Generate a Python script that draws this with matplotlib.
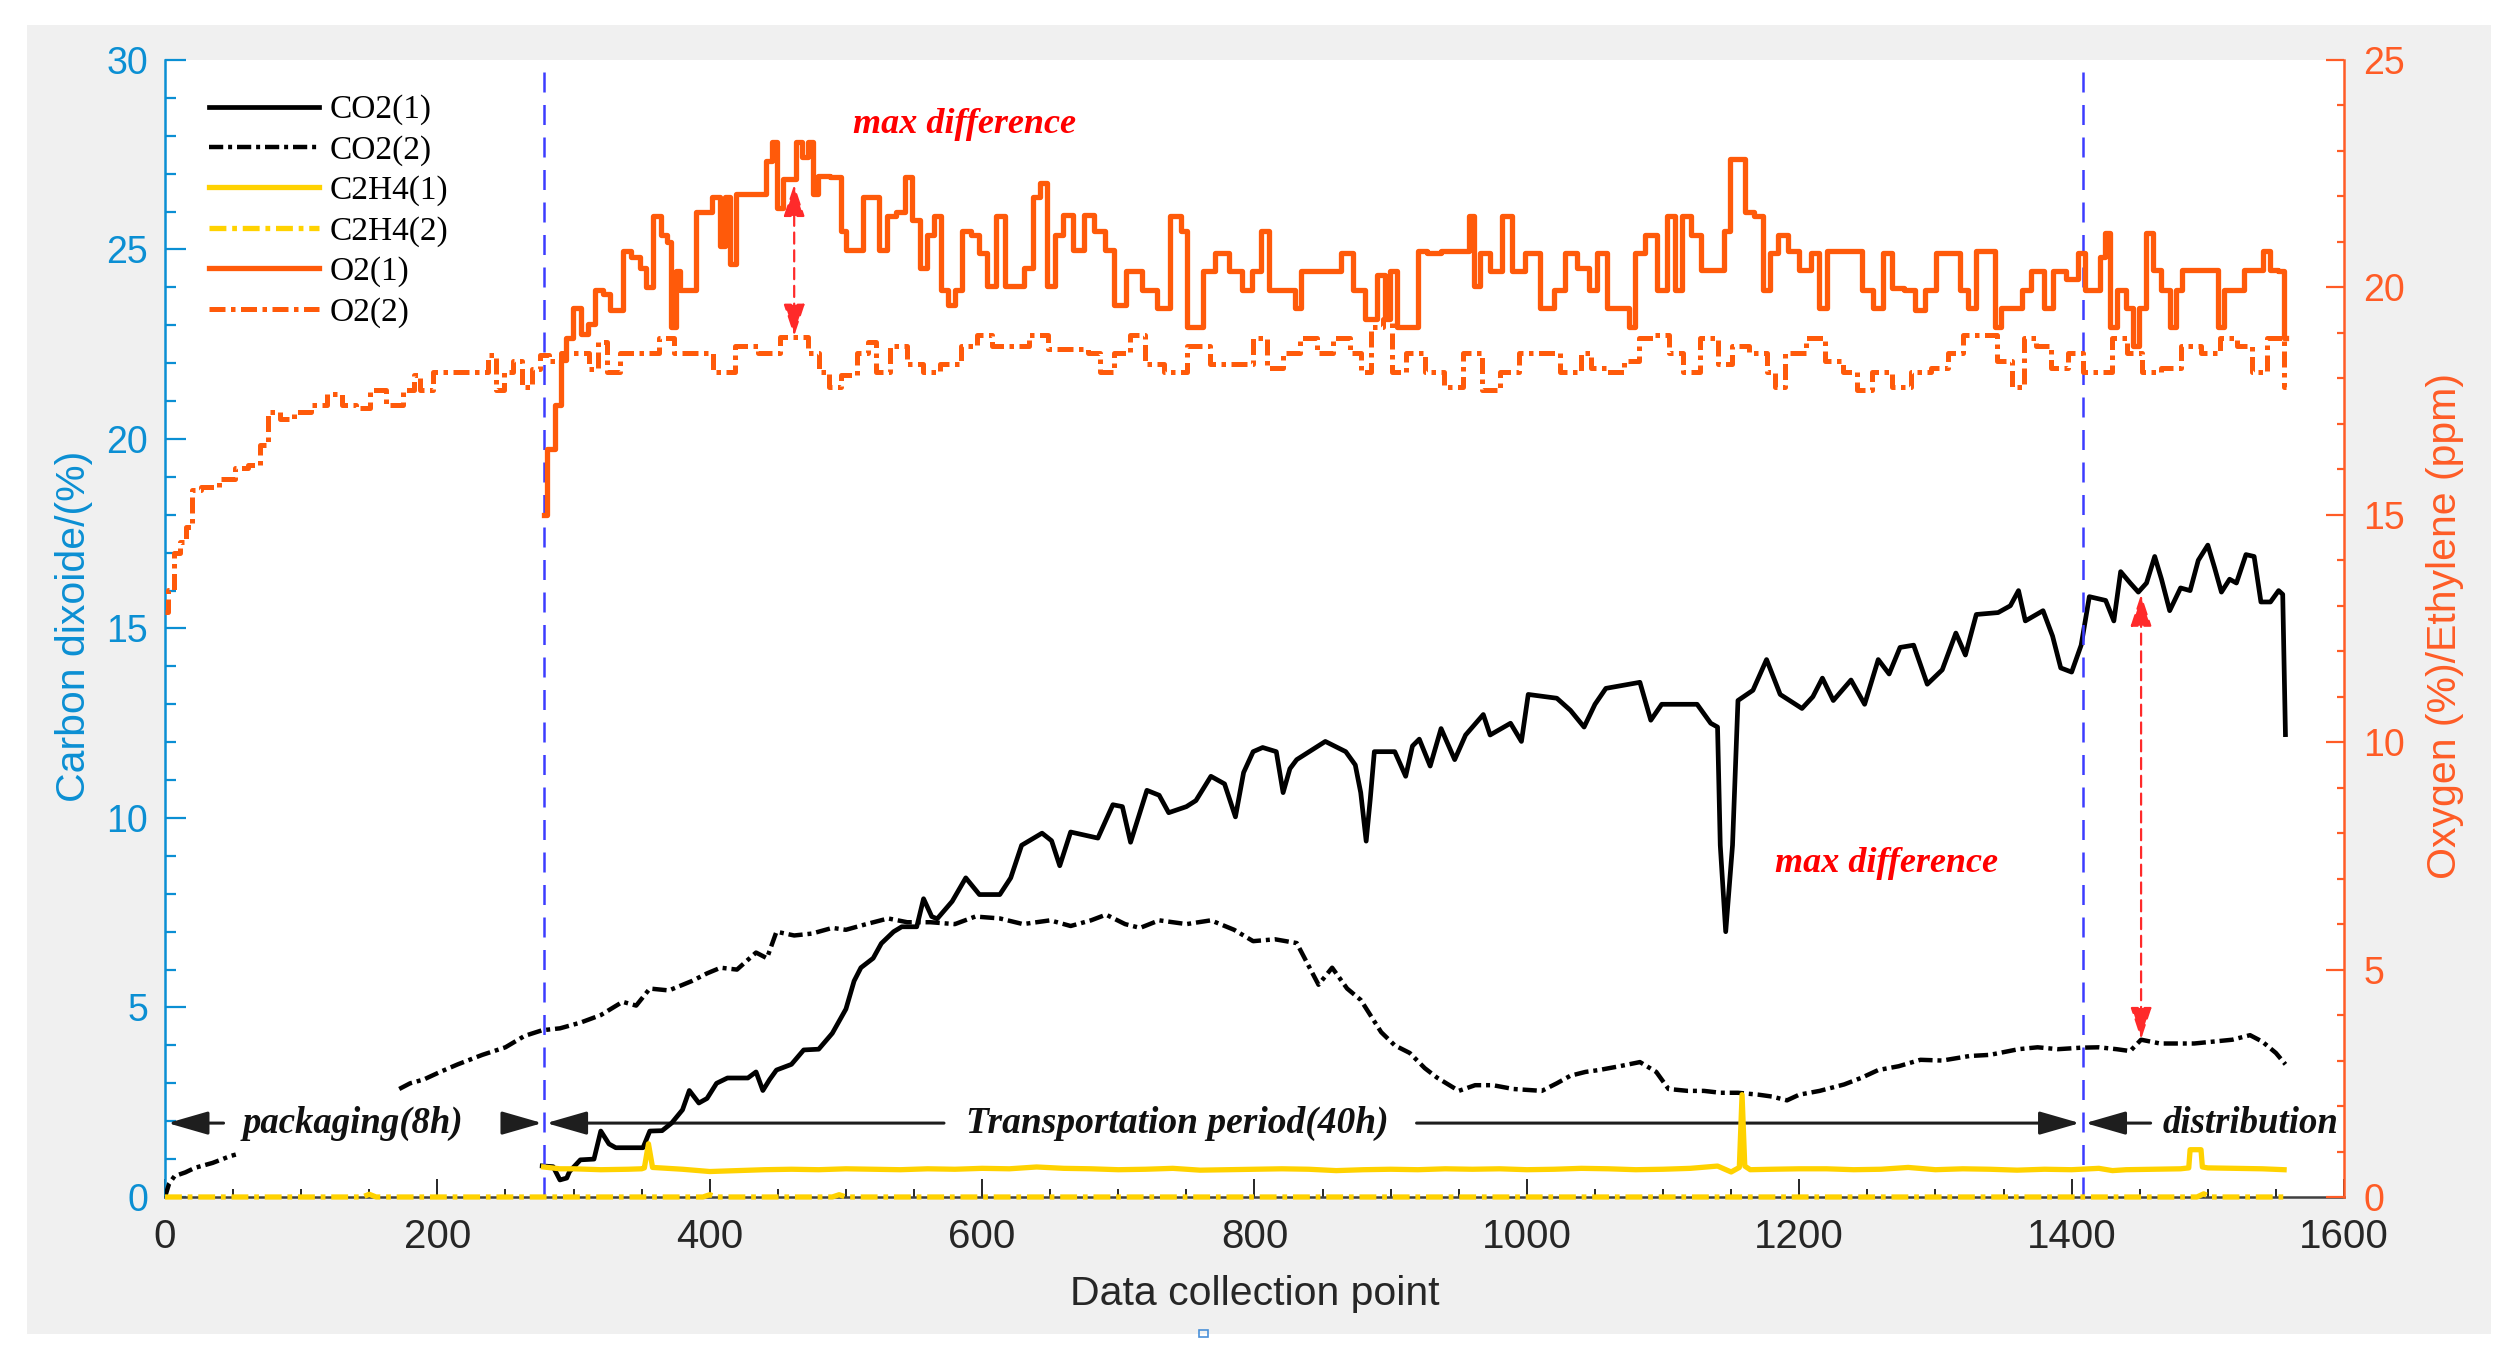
import matplotlib
matplotlib.use('Agg')
import matplotlib.pyplot as plt
from matplotlib.patches import Rectangle, FancyArrowPatch, ArrowStyle
from matplotlib.ticker import MultipleLocator
from matplotlib.font_manager import FontProperties

nan = float('nan')

# ---------------- data ----------------
x_ticks = [0, 200, 400, 600, 800, 1000, 1200, 1400, 1600]
phase_bounds = [278, 1408]

co2_1_x = [277, 285, 290, 295, 297, 305, 315, 320, 326, 331,
           351, 356, 365, 372, 380, 385, 392, 398, 405, 413,
           428, 434, 439, 444, 449, 460, 469, 480, 490, 500,
           506, 511, 520, 526, 535, 541, 552, 557, 563, 567,
           578, 588, 598, 613, 621, 629, 644, 651, 657, 665,
           685, 696, 703, 709, 721, 730, 737, 750, 757, 768,
           778, 786, 792, 799, 806, 816, 821, 826, 831, 852,
           867, 874, 878, 882, 885, 888, 903, 911, 916, 921,
           929, 937, 947, 955, 968, 973, 988, 996, 1001, 1022,
           1032, 1042, 1050, 1058, 1083, 1091, 1099, 1125, 1135, 1140,
           1142, 1146, 1151, 1155, 1166, 1176, 1186, 1202, 1210, 1217,
           1225, 1238, 1248, 1258, 1266, 1274, 1284, 1294, 1305, 1315,
           1322, 1330, 1346, 1355, 1361, 1366, 1379, 1386, 1392, 1400,
           1407, 1413, 1425, 1431, 1436, 1443, 1449, 1455, 1461, 1466,
           1472, 1480, 1487, 1493, 1500, 1505, 1510, 1516, 1521, 1528,
           1534, 1539, 1546, 1552, 1555, 1557]
co2_1_y = [0.82, 0.80, 0.45, 0.50, 0.67, 0.98, 1.00, 1.74, 1.40, 1.30,
           1.30, 1.74, 1.75, 1.95, 2.30, 2.81, 2.48, 2.60, 3.00, 3.14,
           3.14, 3.30, 2.81, 3.10, 3.35, 3.50, 3.88, 3.90, 4.32, 4.96,
           5.70, 6.05, 6.30, 6.69, 7.00, 7.13, 7.13, 7.87, 7.40, 7.34,
           7.80, 8.42, 7.98, 7.98, 8.42, 9.28, 9.60, 9.40, 8.74, 9.63,
           9.47, 10.35, 10.30, 9.36, 10.73, 10.60, 10.14, 10.30, 10.46, 11.10,
           10.90, 10.03, 11.20, 11.75, 11.86, 11.75, 10.67, 11.30, 11.54, 12.02,
           11.75, 11.40, 10.67, 9.39, 10.50, 11.75, 11.75, 11.10, 11.90, 12.08,
           11.37, 12.36, 11.54, 12.19, 12.73, 12.19, 12.50, 12.02, 13.26, 13.16,
           12.84, 12.40, 13.00, 13.42, 13.58, 12.58, 13.00, 13.00, 12.50, 12.40,
           9.28, 7.00, 9.28, 13.10, 13.37, 14.18, 13.26, 12.89, 13.20, 13.69,
           13.10, 13.64, 13.00, 14.18, 13.80, 14.50, 14.56, 13.53, 13.91, 14.88,
           14.30, 15.37, 15.42, 15.60, 16.00, 15.20, 15.47, 14.80, 13.96, 13.85,
           14.56, 15.84, 15.74, 15.20, 16.50, 16.20, 15.96, 16.20, 16.90, 16.30,
           15.47, 16.07, 16.00, 16.80, 17.20, 16.60, 15.96, 16.30, 16.20, 16.95,
           16.90, 15.70, 15.70, 16.00, 15.90, 12.20]

co2_2_x = [0, 3, 7, 15, 22, 35, 48, 52, 53, 172,
           180, 190, 202, 215, 233, 250, 264, 277, 290, 305,
           320, 336, 346, 356, 370, 387, 398, 408, 420, 434,
           442, 449, 462, 475, 490, 500, 515, 531, 545, 562,
           580, 595, 613, 630, 650, 665, 680, 691, 705, 716,
           730, 750, 768, 785, 799, 815, 831, 847, 857, 868,
           878, 893, 903, 914, 925, 934, 950, 962, 975, 990,
           1011, 1022, 1032, 1043, 1053, 1068, 1083, 1095, 1104, 1118,
           1130, 1142, 1155, 1170, 1180, 1191, 1200, 1215, 1233, 1246,
           1258, 1273, 1289, 1305, 1325, 1340, 1361, 1375, 1390, 1407,
           1420, 1433, 1443, 1451, 1465, 1478, 1490, 1504, 1518, 1531,
           1540, 1550, 1557]
co2_2_y = [0.0, 0.35, 0.55, 0.65, 0.77, 0.9, 1.08, 1.12, nan, 2.85,
           3.0, 3.1, 3.3, 3.5, 3.75, 3.95, 4.25, 4.4, 4.45, 4.6,
           4.8, 5.15, 5.05, 5.5, 5.45, 5.7, 5.9, 6.05, 6.0, 6.45,
           6.3, 7.0, 6.9, 6.95, 7.1, 7.05, 7.2, 7.35, 7.25, 7.25,
           7.2, 7.4, 7.35, 7.2, 7.3, 7.15, 7.3, 7.45, 7.2, 7.1,
           7.3, 7.2, 7.3, 7.05, 6.75, 6.8, 6.7, 5.6, 6.05, 5.5,
           5.2, 4.35, 4.0, 3.8, 3.4, 3.15, 2.8, 2.95, 2.95, 2.85,
           2.8, 3.0, 3.2, 3.3, 3.35, 3.45, 3.56, 3.3, 2.85, 2.8,
           2.8, 2.75, 2.75, 2.7, 2.65, 2.55, 2.7, 2.8, 2.97, 3.15,
           3.35, 3.45, 3.62, 3.6, 3.72, 3.75, 3.9, 3.95, 3.9, 3.94,
           3.95, 3.9, 3.85, 4.15, 4.05, 4.05, 4.05, 4.1, 4.15, 4.27,
           4.1, 3.8, 3.5]

c2h4_1_x = [278, 290, 300, 320, 340, 350, 352, 355, 358, 380,
            400, 420, 440, 460, 480, 500, 520, 540, 560, 580,
            600, 620, 640, 660, 680, 700, 720, 740, 760, 780,
            800, 820, 840, 860, 880, 900, 920, 940, 960, 980,
            1000, 1020, 1040, 1060, 1080, 1100, 1120, 1140, 1150, 1156,
            1158, 1160, 1164, 1180, 1200, 1220, 1240, 1260, 1280, 1300,
            1320, 1340, 1360, 1380, 1400, 1420, 1430, 1440, 1460, 1480,
            1486, 1487, 1495, 1496, 1500, 1520, 1540, 1556]
c2h4_1_y = [0.66, 0.62, 0.62, 0.60, 0.61, 0.62, 0.64, 1.17, 0.65, 0.61,
            0.56, 0.58, 0.60, 0.61, 0.60, 0.62, 0.61, 0.60, 0.62, 0.61,
            0.63, 0.62, 0.66, 0.63, 0.62, 0.60, 0.61, 0.63, 0.59, 0.60,
            0.61, 0.62, 0.61, 0.58, 0.60, 0.61, 0.60, 0.62, 0.61, 0.62,
            0.60, 0.61, 0.63, 0.62, 0.60, 0.61, 0.63, 0.68, 0.55, 0.65,
            2.25, 0.68, 0.60, 0.61, 0.62, 0.62, 0.60, 0.61, 0.65, 0.60,
            0.62, 0.61, 0.59, 0.61, 0.60, 0.63, 0.58, 0.60, 0.61, 0.62,
            0.64, 1.04, 1.04, 0.66, 0.64, 0.63, 0.62, 0.60]

c2h4_2_x = [0, 145, 150, 155, 395, 400, 405, 490, 495, 500, 1492, 1497, 1502, 1556]
c2h4_2_y = [0, 0, 0.06, 0, 0, 0.05, 0, 0, 0.05, 0, 0, 0.07, 0, 0]

o2_1_x = [278, 283.5, 289, 292, 297, 302.5, 308, 313, 318, 325,
          329, 334, 339, 346, 351, 356, 361, 367, 370, 373.5,
          377, 380, 387, 392.5, 398, 405, 410, 413, 417, 422,
          439, 443, 448, 451, 457, 462, 465, 470.5, 474, 477,
          482, 494.6, 498, 501.5, 510, 515, 522, 527, 533, 541,
          546, 551.5, 557, 562, 567, 572, 577.5, 583, 588, 595,
          600, 607, 614, 619, 627.6, 634.5, 640, 645, 650, 657,
          662, 671, 678, 686.5, 693.4, 700, 710.7, 724.5, 733, 743.5,
          748.7, 752, 759, 766, 776, 787, 794, 802, 807.6, 813,
          828, 832, 837, 849, 859.5, 868, 877, 885.4, 894, 897.5,
          901, 908, 918, 921.7, 932, 942.5, 954.6, 960, 963, 968.4,
          977, 986, 992.6, 1005, 1015, 1025.5, 1031, 1043, 1048, 1055,
          1063, 1073.4, 1077, 1082.4, 1091.4, 1100.4, 1105.8, 1111, 1116.6, 1124,
          1131, 1141.8, 1147.2, 1150.8, 1156.2, 1163.4, 1170.6, 1176, 1181.4, 1187,
          1196, 1203, 1214, 1215.6, 1224.7, 1242.7, 1250, 1258.9, 1264.3, 1271.5,
          1282.3, 1287.7, 1296.7, 1303.9, 1314.7, 1322, 1325.5, 1334.5, 1341.7, 1345.3,
          1350.7, 1361.5, 1365, 1375.9, 1383, 1390.3, 1401, 1408.3, 1412, 1419,
          1422.7, 1426, 1430, 1437, 1442.5, 1448, 1451.5, 1457, 1462.3, 1469.6,
          1475, 1478.5, 1484, 1505.5, 1509, 1514.5, 1523.5, 1529, 1538, 1543,
          1548.7, 1554, 1557.7]
o2_1_y = [15.0, 16.44, 17.42, 18.4, 18.88, 19.54, 18.97, 19.2, 19.94, 19.86,
          19.5, 19.5, 20.8, 20.67, 20.43, 20.0, 21.57, 21.16, 20.99, 19.13,
          20.35, 19.94, 19.94, 21.65, 21.65, 21.98, 20.9, 21.98, 20.51, 22.06,
          22.06, 22.79, 23.2, 21.74, 22.38, 22.38, 23.2, 22.87, 23.2, 22.06,
          22.46, 22.42, 21.24, 20.83, 20.83, 21.98, 21.98, 20.83, 21.57, 21.65,
          22.42, 21.48, 20.43, 21.16, 21.57, 19.94, 19.62, 19.94, 21.24, 21.16,
          20.75, 20.02, 21.57, 20.02, 20.02, 20.43, 21.98, 22.3, 20.02, 21.16,
          21.6, 20.83, 21.6, 21.24, 20.83, 19.62, 20.35, 19.94, 19.54, 21.57,
          21.24, 19.13, 19.13, 20.35, 20.75, 20.35, 19.94, 20.35, 21.24, 19.94,
          19.94, 19.54, 20.35, 20.35, 20.35, 20.75, 19.94, 19.3, 20.27, 19.3,
          20.35, 19.13, 19.13, 20.8, 20.75, 20.8, 20.8, 21.57, 20.02, 20.75,
          20.35, 21.57, 20.35, 20.75, 19.54, 19.94, 20.75, 20.43, 19.94, 20.75,
          19.54, 19.54, 19.13, 20.75, 21.16, 19.94, 21.57, 19.94, 21.57, 21.16,
          20.39, 20.39, 21.24, 22.82, 22.82, 21.65, 21.57, 19.94, 20.75, 21.16,
          20.8, 20.39, 20.75, 19.54, 20.8, 20.8, 19.94, 19.54, 20.75, 19.98,
          19.94, 19.5, 19.94, 20.75, 20.75, 19.94, 19.54, 20.8, 20.8, 19.13,
          19.54, 19.54, 19.94, 20.35, 19.54, 20.35, 20.19, 20.75, 19.94, 19.94,
          20.67, 21.2, 19.13, 19.94, 19.54, 18.72, 19.54, 21.2, 20.39, 19.94,
          19.13, 19.94, 20.39, 20.39, 19.13, 19.94, 19.94, 20.39, 20.39, 20.8,
          20.39, 20.35, 18.88]

o2_2_x = [0, 5, 8.4, 13.6, 17, 22, 31, 48, 55, 67,
          72.5, 79.4, 90, 100, 114, 124.4, 135, 145, 155.5, 169,
          180, 185, 190, 204, 221, 235, 240, 245.4, 252.4, 259,
          266, 273, 277.3, 287, 294, 308, 315, 321, 328.5, 339,
          356, 370, 377, 394, 411.5, 425, 446, 457, 467, 477,
          484, 491, 501.5, 515, 517, 527, 537.7, 551.5, 562, 575.7,
          593, 600, 614, 627.6, 641.5, 655, 672.6, 683, 690, 703.7,
          714, 724.5, 742, 759, 776, 793.7, 804, 814.5, 828, 838.7,
          852.5, 863, 877, 880, 890.6, 897.5, 904.4, 918, 932, 946,
          960, 973.6, 987.5, 1001.3, 1019, 1029, 1037, 1043, 1051.8, 1066.2,
          1077, 1087.8, 1098.6, 1109.4, 1120.2, 1134.6, 1145.4, 1156.2, 1170.6, 1181.4,
          1183.2, 1195.8, 1213.8, 1224.7, 1239, 1246.3, 1260.7, 1275, 1289.5, 1303.9,
          1314.7, 1325.5, 1340, 1350.7, 1361.5, 1368.7, 1379.5, 1390.3, 1404.7, 1412,
          1422.7, 1437, 1444.3, 1458.7, 1473, 1487.5, 1501.9, 1516.3, 1527, 1538,
          1548.7, 1554, 1557.7]
o2_2_y = [12.86, 13.35, 14.16, 14.4, 14.73, 15.55, 15.62, 15.79, 16.03, 16.1,
          16.53, 17.25, 17.1, 17.25, 17.42, 17.66, 17.42, 17.35, 17.74, 17.42,
          17.74, 18.07, 17.74, 18.14, 18.14, 18.14, 18.52, 17.74, 18.14, 18.39,
          17.82, 18.2, 18.52, 18.39, 18.55, 18.55, 18.2, 18.8, 18.14, 18.55,
          18.55, 18.88, 18.55, 18.55, 18.14, 18.72, 18.55, 18.92, 18.92, 18.55,
          18.14, 17.82, 18.07, 18.55, 18.8, 18.14, 18.72, 18.31, 18.14, 18.31,
          18.72, 18.96, 18.72, 18.72, 18.96, 18.64, 18.64, 18.55, 18.14, 18.55,
          18.96, 18.31, 18.14, 18.72, 18.31, 18.31, 18.88, 18.22, 18.55, 18.88,
          18.55, 18.88, 18.55, 18.14, 19.13, 19.3, 18.14, 18.55, 18.14, 17.82,
          18.55, 17.74, 18.14, 18.55, 18.55, 18.14, 18.14, 18.55, 18.22, 18.14,
          18.39, 18.88, 18.96, 18.55, 18.14, 18.88, 18.31, 18.72, 18.55, 18.14,
          17.82, 18.55, 18.88, 18.39, 18.14, 17.74, 18.14, 17.82, 18.14, 18.22,
          18.55, 18.96, 18.96, 18.39, 17.82, 18.88, 18.72, 18.22, 18.55, 18.14,
          18.14, 18.88, 18.55, 18.14, 18.22, 18.72, 18.55, 18.88, 18.72, 18.14,
          18.88, 18.88, 17.82]

# ---------------- style ----------------
BLUE = '#0b8fd3'
ORANGE_AX = '#ff5c26'
ORANGE = '#ff5a0a'
YELLOW = '#ffd200'
DASHDOT = (0, (3.2, 1.1, 0.9, 1.1))
SERIF_BI = dict(family='Liberation Serif', weight='bold', style='italic')

plt.rcParams['font.family'] = ['Liberation Sans', 'DejaVu Sans']

fig = plt.figure(figsize=(25.17, 13.58), dpi=100)
fig.patch.set_facecolor('white')
fig.add_artist(Rectangle((0.0107, 0.0177), 0.9789, 0.9639, transform=fig.transFigure,
                         facecolor='#f0f0f0', edgecolor='none', zorder=-10))
fig.add_artist(Rectangle((1199 / 2517, 1 - 1337 / 1358), 9 / 2517, 7 / 1358,
                         transform=fig.transFigure, facecolor='none',
                         edgecolor='#4a90d9', lw=1.2, zorder=-5))

ax = fig.add_axes([0.06555, 0.11856, 0.86572, 0.83726])
ax.set_facecolor('white')
ax2 = ax.twinx()

# lines
l1, = ax.plot(co2_1_x, co2_1_y, color='black', lw=3.4, label='CO2(1)', zorder=3)
l2, = ax.plot(co2_2_x, co2_2_y, color='black', lw=3.2, ls=DASHDOT, label='CO2(2)', zorder=3)
l3, = ax2.plot(c2h4_1_x, c2h4_1_y, color=YELLOW, lw=3.8, label='C2H4(1)', zorder=2)
l4, = ax2.plot(c2h4_2_x, c2h4_2_y, color=YELLOW, lw=3.8, ls=DASHDOT, label='C2H4(2)',
               clip_on=False, zorder=2)
l5, = ax2.plot(o2_1_x, o2_1_y, color=ORANGE, lw=3.8, label='O2(1)', zorder=3,
               drawstyle='steps-mid')
l6, = ax2.plot(o2_2_x, o2_2_y, color=ORANGE, lw=3.6, ls=DASHDOT, label='O2(2)', zorder=3,
               drawstyle='steps-mid')

# phase boundaries
for xb in phase_bounds:
    ax.axvline(xb, color='#3c3cff', lw=1.8, ls=(0, (8, 5)), zorder=4)

# axes limits & ticks
ax.set_xlim(0, 1600)
ax.set_ylim(0, 30)
ax2.set_ylim(0, 25)
ax.set_xticks(x_ticks)
ax.xaxis.set_minor_locator(MultipleLocator(50))
ax.yaxis.set_major_locator(MultipleLocator(5))
ax.yaxis.set_minor_locator(MultipleLocator(1))
ax2.yaxis.set_major_locator(MultipleLocator(5))
ax2.yaxis.set_minor_locator(MultipleLocator(1))

for sp in ['top', 'right']:
    ax.spines[sp].set_visible(False)
ax.spines['left'].set_color(BLUE)
ax.spines['left'].set_linewidth(1.8)
ax.spines['bottom'].set_color('#404040')
ax.spines['bottom'].set_linewidth(1.8)
for sp in ['top', 'left', 'bottom']:
    ax2.spines[sp].set_visible(False)
ax2.spines['right'].set_color(ORANGE_AX)
ax2.spines['right'].set_linewidth(1.8)

ax.tick_params(axis='x', which='both', direction='in', top=False, color='#262626',
               labelcolor='#262626', labelsize=29, pad=15, width=1.4)
ax.tick_params(axis='x', which='major', length=13)
ax.tick_params(axis='x', which='minor', length=6)
ax.tick_params(axis='y', which='both', direction='in', right=False, color=BLUE,
               labelcolor=BLUE, labelsize=27, pad=12, width=1.6)
ax.tick_params(axis='y', which='major', length=15)
ax.tick_params(axis='y', which='minor', length=8)
ax2.tick_params(axis='y', which='both', direction='in', color=ORANGE_AX,
                labelcolor=ORANGE_AX, labelsize=27, pad=14, width=1.6)
ax2.tick_params(axis='y', which='major', length=13)
ax2.tick_params(axis='y', which='minor', length=5)

# axis labels
ax.set_xlabel('Data collection point', fontsize=29.5, color='#262626', va='center')
ax.xaxis.set_label_coords(0.5, -0.0854)
ax.set_ylabel('Carbon dixoide/(%)', fontsize=29.5, color=BLUE, va='center')
ax.yaxis.set_label_coords(-0.0417, 0.502)
ax2.set_ylabel('Oxygen (%)/Ethylene (ppm)', fontsize=29.5, color=ORANGE_AX, va='center',
               rotation=90)
ax2.yaxis.set_label_coords(1.0463, 0.502)

# period arrows
black_head = ArrowStyle('-|>', head_length=1.25, head_width=0.36)
period_y = 1.95
for (xa, xb) in [(43, 2), (248, 277), (572, 280), (919, 1406), (1458, 1410)]:
    ax.add_patch(FancyArrowPatch((xa, period_y), (xb, period_y), arrowstyle=black_head,
                                 mutation_scale=20, color='#1e1e1e', lw=2.2,
                                 shrinkA=0, shrinkB=0, zorder=2))
ax.text(138, period_y, 'packaging(8h)', fontsize=26.5, ha='center', va='center',
        color='#111111', **SERIF_BI)
ax.text(743, period_y, 'Transportation period(40h)', fontsize=27, ha='center',
        va='center', color='#111111', **SERIF_BI)
ax.text(1467, period_y, 'distribution', fontsize=26.5, ha='left', va='center',
        color='#111111', **SERIF_BI)

# max difference annotations
ax.text(587, 28.3, 'max difference', fontsize=26, ha='center', va='center',
        color='#ff0000', **SERIF_BI)
ax.text(1264, 8.8, 'max difference', fontsize=26, ha='center', va='center',
        color='#ff0000', **SERIF_BI)
red_head = ArrowStyle('<|-|>', head_length=1.0, head_width=0.33)
ax2.annotate('', xy=(462, 22.26), xytext=(462, 18.93),
             arrowprops=dict(arrowstyle=red_head, mutation_scale=20, color='#ff2a2a',
                             lw=1.6, linestyle=(0, (5, 3)), shrinkA=0, shrinkB=0),
             zorder=5)
ax.annotate('', xy=(1451, 15.9), xytext=(1451, 4.16),
            arrowprops=dict(arrowstyle=red_head, mutation_scale=20, color='#ff2a2a',
                            lw=1.6, linestyle=(0, (5, 3)), shrinkA=0, shrinkB=0),
            zorder=5)

# legend
handles = [l1, l2, l3, l4, l5, l6]
ax2.legend(handles, [h.get_label() for h in handles], loc='upper left',
           bbox_to_anchor=(0.0202, 0.9695), frameon=False,
           prop=FontProperties(family='Liberation Serif', size=24),
           handlelength=3.3, handletextpad=0.33, labelspacing=0.29,
           borderpad=0, borderaxespad=0)

fig.savefig('out.png', dpi=100, facecolor=fig.get_facecolor())
